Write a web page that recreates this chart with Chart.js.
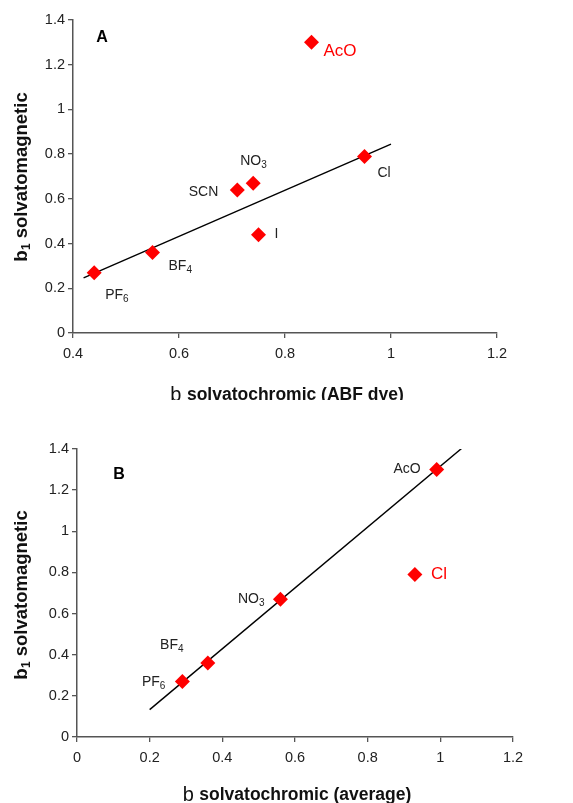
<!DOCTYPE html>
<html>
<head>
<meta charset="utf-8">
<script src="https://cdn.jsdelivr.net/npm/chart.js@4.4.0/dist/chart.umd.min.js"></script>
<style>
  body { margin: 0; background: #fff; }
  .box { position: absolute; left: 0; width: 573px; }
</style>
</head>
<body>
<div class="box" style="top:0;height:400px"><canvas id="chartA" width="573" height="400"></canvas></div>
<div class="box" style="top:400px;height:403px"><canvas id="chartB" width="573" height="403"></canvas></div>
<script>
// panel A: b1 vs b (ABF dye)
const namesA = ['PF6', 'BF4', 'SCN', 'NO3', 'I', 'Cl', 'AcO']
const xA = [0.44, 0.55, 0.71, 0.74, 0.75, 0.95, 0.85]
const yA = [0.27, 0.36, 0.64, 0.67, 0.44, 0.79, 1.30]
const trendXA = [0.42, 1.0]
const trendYA = [0.247, 0.845]
const xTicksA = [0.4, 0.6, 0.8, 1, 1.2]

// panel B: b1 vs b (average)
const namesB = ['PF6', 'BF4', 'NO3', 'AcO', 'Cl']
const xB = [0.29, 0.36, 0.56, 0.99, 0.93]
const yB = [0.27, 0.36, 0.67, 1.30, 0.79]
const trendXB = [0.2, 1.06]
const trendYB = [0.133, 1.405]
const xTicksB = [0, 0.2, 0.4, 0.6, 0.8, 1, 1.2]

const yTicks = [0, 0.2, 0.4, 0.6, 0.8, 1, 1.2, 1.4]

// label placement (dx, dy, align, color, size)
const labelStyleA = [
    [11, 23, 'left', '#222', 14],
    [16, 14, 'left', '#222', 14],
    [-19, 2, 'right', '#222', 14],
    [-13, -22, 'left', '#222', 14],
    [16, 0, 'left', '#222', 14],
    [13, 17, 'left', '#222', 14],
    [12, 9, 'left', '#ff0000', 17]
]
const labelStyleB = [
    [-17, 1, 'right', '#222', 14],
    [-36, -18, 'center', '#222', 14],
    [-16, 0, 'right', '#222', 14],
    [-16, 0, 'right', '#222', 14],
    [16, 0, 'left', '#ff0000', 17]
]

const FONT = '"Liberation Sans", Arial, sans-serif'

function pts(xs, ys) {
    return xs.map((x, i) => ({ x: x, y: ys[i] }))
}

// "NO3" -> NO + subscript 3
function splitSub(name) {
    const m = name.match(/^(.*?)(\d+)$/)
    return m ? [m[1], m[2]] : [name, '']
}

function drawRich(ctx, parts, x, y, align) {
    let total = 0
    parts.forEach(p => { ctx.font = p.font; p.w = ctx.measureText(p.t).width; total += p.w })
    let cx = x
    if (align == 'center') cx = x - total / 2
    if (align == 'right') cx = x - total
    ctx.textAlign = 'left'
    ctx.textBaseline = 'middle'
    parts.forEach(p => {
        ctx.font = p.font
        ctx.fillText(p.t, cx, y + (p.dy || 0))
        cx += p.w
    })
}

function makeLabelPlugin(names, styles, letter, letterPos, xTitle, xTitleY, yTitlePos) {
    return {
        id: 'labels',
        afterDatasetsDraw(chart) {
            const ctx = chart.ctx
            const meta = chart.getDatasetMeta(0)
            ctx.save()
            meta.data.forEach((el, i) => {
                const s = styles[i]
                const [main, sub] = splitSub(names[i])
                ctx.fillStyle = s[3]
                const parts = [{ t: main, font: s[4] + 'px ' + FONT }]
                if (sub) parts.push({ t: sub, font: Math.round(s[4] * 0.72) + 'px ' + FONT, dy: 4 })
                drawRich(ctx, parts, el.x + s[0], el.y + s[1], s[2])
            })
            // panel letter
            ctx.fillStyle = '#000'
            ctx.font = 'bold 16px ' + FONT
            ctx.textAlign = 'center'
            ctx.textBaseline = 'middle'
            ctx.fillText(letter, letterPos[0], letterPos[1])
            // x title
            ctx.fillStyle = '#111'
            drawRich(ctx, [
                { t: 'b ', font: '20px ' + FONT },
                { t: xTitle, font: 'bold 17.5px ' + FONT }
            ], chart.chartArea.left + (chart.chartArea.right - chart.chartArea.left) / 2 + 2, xTitleY, 'center')
            // y title
            ctx.translate(yTitlePos[0], yTitlePos[1])
            ctx.rotate(-Math.PI / 2)
            drawRich(ctx, [
                { t: 'b', font: 'bold 19px ' + FONT },
                { t: '1', font: 'bold 12px ' + FONT, dy: 5 },
                { t: ' solvatomagnetic', font: 'bold 18.5px ' + FONT }
            ], 0, 0, 'center')
            ctx.restore()
        }
    }
}

function makeChart(id, xs, ys, tx, ty, xTicks, xMin, pad, yWidth, xHeight, plugin) {
    return new Chart(document.getElementById(id), {
        type: 'scatter',
        data: {
            datasets: [{
                data: pts(xs, ys),
                pointStyle: 'rectRot',
                pointRadius: 7.5,
                pointHoverRadius: 7.5,
                backgroundColor: '#ff0000',
                borderColor: '#ff0000',
                borderWidth: 0
            }, {
                data: pts(tx, ty),
                showLine: true,
                pointRadius: 0,
                borderColor: '#000',
                borderWidth: 1.4
            }]
        },
        options: {
            responsive: false,
            animation: false,
            layout: { padding: pad },
            plugins: { legend: { display: false }, tooltip: { enabled: false } },
            scales: {
                x: {
                    type: 'linear',
                    min: xMin,
                    max: 1.2,
                    afterBuildTicks: s => { s.ticks = xTicks.map(v => ({ value: v })) },
                    afterFit: s => { s.height = xHeight },
                    border: { color: '#555', width: 1.5 },
                    grid: { drawOnChartArea: false, drawTicks: true, tickLength: 5, color: '#555', lineWidth: 1.3 },
                    ticks: { color: '#222', font: { family: FONT, size: 14.5 }, padding: 7, maxRotation: 0,
                        callback: v => String(v) }
                },
                y: {
                    type: 'linear',
                    min: 0,
                    max: 1.4,
                    afterBuildTicks: s => { s.ticks = yTicks.map(v => ({ value: v })) },
                    afterFit: s => { s.width = yWidth },
                    border: { color: '#555', width: 1.5 },
                    grid: { drawOnChartArea: false, drawTicks: true, tickLength: 5, color: '#555', lineWidth: 1.3 },
                    ticks: { color: '#222', font: { family: FONT, size: 14.5 }, padding: 3,
                        callback: v => String(v) }
                }
            }
        },
        plugins: [plugin]
    })
}

makeChart('chartA', xA, yA, trendXA, trendYA, xTicksA, 0.4,
    { top: 20, right: 76, left: 0, bottom: 0 }, 73, 67,
    makeLabelPlugin(namesA, labelStyleA, 'A', [102, 38], 'solvatochromic (ABF dye)', 395, [22, 177]))

makeChart('chartB', xB, yB, trendXB, trendYB, xTicksB, 0,
    { top: 49, right: 60, left: 0, bottom: 0 }, 77, 66,
    makeLabelPlugin(namesB, labelStyleB, 'B', [119, 75], 'solvatochromic (average)', 395, [22, 195]))
</script>
</body>
</html>
